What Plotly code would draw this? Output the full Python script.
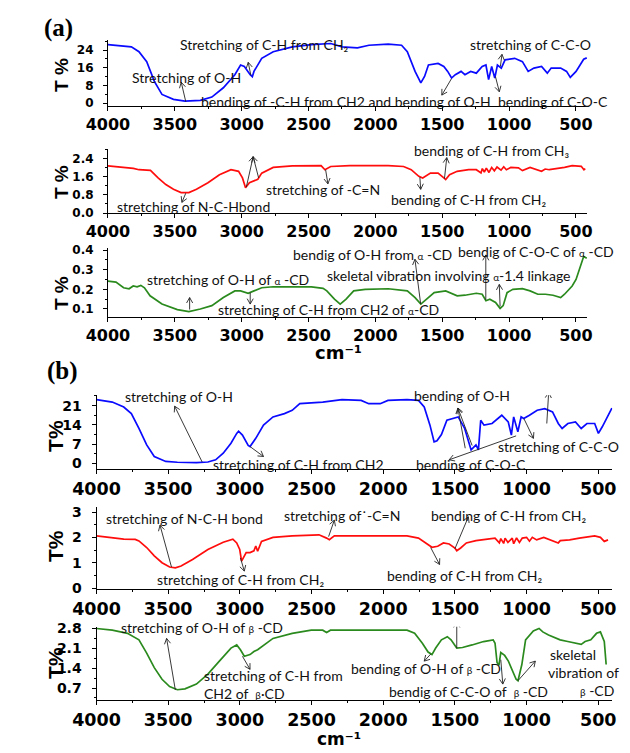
import math
import plotly.graph_objects as go

# ---------------- data (wavenumber cm-1, transmittance) ----------------
wn_a1 = [4000, 3825, 3768, 3710, 3653, 3596, 3510, 3424, 3309, 3223, 3137, 3051, 3008, 2980, 2936, 2920,
         2908, 2850, 2764, 2621, 2478, 2334, 2248, 2134, 2048, 1904, 1804, 1761, 1703, 1660, 1632, 1603,
         1531, 1488, 1459, 1430, 1402, 1359, 1330, 1287, 1245, 1201, 1173, 1153, 1130, 1107, 1087, 1058,
         1030, 958, 900, 857, 814, 757, 714, 685, 614, 570, 542, 499, 442, 419]
t_a1 = [26.5, 25.5, 23.3, 18.8, 9.9, 4.0, 1.8, 1.0, 1.3, 2.8, 7.0, 12.9, 17.3, 16.6, 12.9, 12.0,
        14.4, 20.3, 23.3, 25.5, 26.5, 27.0, 25.5, 25.0, 26.2, 26.7, 26.2, 23.3, 14.4, 9.2, 12.1, 17.3,
        18.0, 16.6, 14.4, 11.4, 12.9, 14.4, 12.9, 14.4, 13.6, 16.6, 17.3, 10.7, 16.6, 11.4, 17.3, 15.9,
        19.6, 20.3, 18.8, 14.4, 15.9, 16.6, 13.6, 15.9, 15.9, 14.4, 11.7, 14.4, 19.9, 20.5]

wn_a2 = [4000, 3857, 3810, 3768, 3682, 3625, 3567, 3510, 3453, 3395, 3338, 3252, 3166, 3080, 3023, 2994,
         2971, 2942, 2908, 2879, 2850, 2764, 2621, 2406, 2377, 2334, 2191, 1904, 1789, 1732, 1675, 1646,
         1588, 1531, 1488, 1474, 1445, 1388, 1302, 1245, 1210, 1200, 1185, 1170, 1150, 1130, 1110, 1090,
         1060, 1040, 1020, 987, 930, 900, 843, 757, 730, 699, 585, 528, 460, 440, 430]
t_a2 = [2.07, 2.0, 1.96, 1.9, 1.87, 1.54, 1.25, 1.04, 0.9, 0.9, 1.04, 1.33, 1.68, 1.9, 1.83, 1.54,
        1.11, 1.33, 1.4, 1.48, 1.75, 2.0, 2.07, 2.08, 1.9, 2.04, 2.08, 2.08, 2.04, 1.9, 1.61, 1.54,
        1.75, 1.75, 1.54, 1.47, 1.68, 1.83, 1.9, 1.9, 1.76, 1.95, 1.8, 1.97, 1.78, 2.0, 1.85, 2.02,
        1.88, 2.03, 1.9, 2.0, 1.98, 1.86, 2.0, 1.83, 1.93, 1.9, 2.0, 2.08, 2.05, 1.9, 1.95]

wn_a3 = [4000, 3940, 3883, 3842, 3811, 3782, 3754, 3727, 3685, 3596, 3481, 3395, 3309, 3223, 3137, 3051,
         3008, 2951, 2908, 2850, 2764, 2478, 2391, 2363, 2306, 2263, 2219, 2162, 2076, 1904, 1761, 1703,
         1660, 1618, 1560, 1474, 1388, 1330, 1245, 1201, 1173, 1144, 1101, 1067, 1044, 1015, 972, 900,
         843, 785, 728, 671, 614, 585, 528, 499, 470, 442, 419]
t_a3 = [0.242, 0.237, 0.208, 0.203, 0.217, 0.213, 0.22, 0.208, 0.167, 0.125, 0.097, 0.087, 0.1, 0.117, 0.158, 0.192,
        0.192, 0.18, 0.192, 0.208, 0.213, 0.212, 0.205, 0.192, 0.15, 0.125, 0.15, 0.192, 0.2, 0.203, 0.192, 0.158,
        0.125, 0.15, 0.183, 0.192, 0.167, 0.17, 0.18, 0.175, 0.142, 0.15, 0.133, 0.103, 0.117, 0.183, 0.2, 0.203,
        0.192, 0.175, 0.175, 0.17, 0.158, 0.175, 0.217, 0.25, 0.308, 0.367, 0.358]

wn_b1 = [4000, 3890, 3810, 3757, 3704, 3650, 3597, 3517, 3436, 3303, 3223, 3169, 3116, 3062, 3022, 3009,
         2982, 2942, 2929, 2889, 2835, 2769, 2689, 2635, 2582, 2422, 2288, 2154, 2101, 2021, 1967, 1834,
         1754, 1714, 1674, 1645, 1625, 1594, 1556, 1477, 1432, 1387, 1353, 1336, 1320, 1297, 1241, 1173,
         1128, 1106, 1090, 1061, 1038, 1020, 980, 926, 873, 819, 779, 752, 712, 659, 619, 579, 525,
         499, 472, 432, 405]
t_b1 = [23.2, 22.3, 20.5, 18.1, 12.7, 6.7, 2.5, 0.7, 0.4, 0.24, 0.5, 1.3, 3.7, 7.3, 10.9, 11.7,
        10.3, 6.5, 6.1, 9.1, 13.9, 16.9, 18.1, 19.3, 21.7, 22.3, 23.2, 22.9, 21.7, 21.7, 22.9, 23.2,
        22.9, 20.5, 13.9, 7.8, 8.2, 10.5, 15.7, 16.9, 12.7, 4.9, 6.7, 4.9, 15.7, 13.9, 14.5, 17.5,
        15.1, 10.3, 16.9, 11.5, 16.9, 16.3, 17.5, 19.3, 19.9, 18.7, 14.5, 12.7, 14.5, 15.1, 12.7, 14.5, 14.5,
        10.9, 13.3, 17.5, 20.1]

wn_b2 = [4000, 3864, 3830, 3810, 3730, 3704, 3650, 3597, 3543, 3490, 3450, 3410, 3330, 3223, 3116, 3049,
         3022, 3001, 2988, 2969, 2956, 2929, 2902, 2889, 2876, 2849, 2769, 2635, 2448, 2395, 2376, 2341,
         2235, 1834, 1754, 1700, 1660, 1620, 1580, 1540, 1500, 1487, 1460, 1420, 1353, 1273, 1220, 1190,
         1180, 1160, 1150, 1130, 1100, 1090, 1070, 1050, 1030, 1000, 980, 960, 930, 880, 779, 765,
         700, 632, 525, 485, 458, 432]
t_b2 = [2.06, 1.97, 1.97, 1.93, 1.92, 1.86, 1.6, 1.27, 1.0, 0.83, 0.8, 0.87, 1.13, 1.52, 1.81, 1.93,
        1.78, 1.52, 1.06, 1.26, 1.4, 1.4, 1.47, 1.66, 1.45, 1.84, 2.0, 2.06, 2.1, 1.97, 1.91, 2.06,
        2.06, 2.06, 1.97, 1.78, 1.61, 1.65, 1.78, 1.74, 1.58, 1.47, 1.58, 1.78, 1.87, 1.93, 1.97, 1.78,
        1.95, 1.76, 1.97, 1.8, 1.97, 1.75, 1.98, 1.8, 1.97, 2.0, 1.85, 2.0, 1.9, 2.0, 1.78, 1.87,
        1.9, 1.97, 2.06, 2.0, 1.84, 1.9]

wn_b3 = [4000, 3890, 3784, 3704, 3650, 3597, 3543, 3490, 3436, 3383, 3303, 3223, 3143, 3062, 3022, 2996,
         2969, 2929, 2902, 2876, 2769, 2635, 2502, 2422, 2395, 2368, 2235, 1834, 1781, 1727, 1687, 1660,
         1634, 1594, 1553, 1527, 1487, 1447, 1380, 1300, 1233, 1220, 1206, 1193, 1180, 1153, 1127, 1100,
         1073, 1060, 1033, 1007, 980, 953, 913, 887, 847, 766, 713, 659, 619, 592, 552, 512, 485, 458, 445]
t_b3 = [2.8, 2.74, 2.63, 2.4, 1.93, 1.42, 1.01, 0.75, 0.64, 0.67, 0.84, 1.19, 1.65, 2.11, 2.22, 2.05,
        1.82, 1.88, 1.99, 2.05, 2.45, 2.63, 2.74, 2.74, 2.66, 2.74, 2.74, 2.74, 2.63, 2.28, 1.97, 1.88,
        2.11, 2.4, 2.51, 2.4, 2.11, 2.13, 2.22, 2.34, 2.4, 2.28, 1.6, 1.5, 1.95, 1.85, 1.65, 1.3,
        1.01, 0.96, 1.53, 2.4, 2.57, 2.71, 2.8, 2.68, 2.57, 2.4, 2.34, 2.28, 2.24, 2.34, 2.4, 2.63, 2.68, 2.34, 1.53]

x_ticks = [4000, 3500, 3000, 2500, 2000, 1500, 1000, 500]
y_ticks = {
    "a1": [0, 8, 16, 24], "a2": [0.0, 0.8, 1.6, 2.4], "a3": [0.1, 0.2, 0.3, 0.4],
    "b1": [0, 7, 14, 21], "b2": [0, 1, 2, 3], "b3": [0.7, 1.4, 2.1, 2.8],
}

series = [
    ("a1", wn_a1, t_a1, "#0a0aff"), ("a2", wn_a2, t_a2, "#ff0d0d"), ("a3", wn_a3, t_a3, "#2b8a1e"),
    ("b1", wn_b1, t_b1, "#0a0aff"), ("b2", wn_b2, t_b2, "#ff0d0d"), ("b3", wn_b3, t_b3, "#2b8a1e"),
]
for name, w, t, c in series:
    assert len(w) == len(t), (name, len(w), len(t))

# ---------------- layout geometry (pixels) ----------------
W, H = 630, 753
panels = {
    "a1": (88, 590.6, 35, 101.7, [4000, 414], [-1.2, 28.4], 4, None),
    "a2": (88, 590.6, 145.7, 210.7, [4000, 414], [0, 2.8], 0.4, ".1f"),
    "a3": (88, 590.6, 246.7, 316.7, [4000, 414], [0.058, 0.408], 0.05, ".1f"),
    "b1": (76, 616.7, 396, 471, [4000, 402], [-2, 24.8], 3.5, None),
    "b2": (76, 616.7, 510, 593.3, [4000, 402], [-0.04, 3.19], 0.5, None),
    "b3": (76, 616.7, 631.7, 706, [4000, 402], [0.285, 2.86], 0.35, ".1f"),
}

fig = go.Figure()
layout = dict(width=W, height=H, margin=dict(l=0, r=0, t=0, b=0),
              paper_bgcolor="white", plot_bgcolor="white", showlegend=False)

order = ["a1", "a2", "a3", "b1", "b2", "b3"]
axid = {}
for i, name in enumerate(order, start=1):
    xl, xr, top, bot, xr_, yr_, ymin, yfmt = panels[name]
    xa = "xaxis" if i == 1 else f"xaxis{i}"
    ya = "yaxis" if i == 1 else f"yaxis{i}"
    xs = "x" if i == 1 else f"x{i}"
    ys = "y" if i == 1 else f"y{i}"
    axid[name] = (xs, ys)
    is_a = name.startswith("a")
    layout[xa] = dict(
        domain=[xl / W, xr / W], range=xr_, anchor=ys, showline=True, linecolor="black", linewidth=1,
        ticks="outside", ticklen=4, tickwidth=1, tickcolor="black", tickvals=x_ticks,
        minor=dict(dtick=250, tick0=0, ticks="outside", ticklen=2, tickcolor="black"),
        tickfont=dict(family="DejaVu Sans", size=16 if is_a else 17.5, color="black", weight="bold"),
        showgrid=False, zeroline=False,
    )
    layout[ya] = dict(
        domain=[1 - bot / H, 1 - top / H], range=yr_, anchor=xs, showline=True, linecolor="black",
        linewidth=1, ticks="outside", ticklen=4, tickwidth=1, tickcolor="black",
        tickvals=y_ticks[name], tickformat=yfmt,
        minor=dict(dtick=ymin, tick0=0, ticks="outside", ticklen=2, tickcolor="black"),
        tickfont=dict(family="DejaVu Sans", size=12 if is_a else 14, color="black", weight="bold"),
        ticklabelstandoff=7,
        showgrid=False, zeroline=False,
    )

for name, w, t, c in series:
    xs, ys = axid[name]
    fig.add_trace(go.Scatter(x=w, y=t, mode="lines", line=dict(color=c, width=1.7),
                             xaxis=xs, yaxis=ys, hoverinfo="skip"))

ann = []
shapes = []
TF = dict(family="Lato, DejaVu Sans", size=14, color="#111")


def txt(name, text, x, y, anchor="left"):
    xs, ys = axid[name]
    ann.append(dict(text=text, x=x, y=y, xref=xs, yref=ys, showarrow=False, xanchor=anchor,
                    yanchor="middle", font=TF, borderpad=0))


def arr(name, hx, hy, tx, ty, L=5.5, Wd=3.2):
    """Pointer line from (tx,ty) to (hx,hy) with an open V head, as layout shapes."""
    xs, ys = axid[name]
    xl, xr, top, bot, xr_, yr_, _, _ = panels[name]
    sx = (xr - xl) / (xr_[0] - xr_[1])
    sy = (bot - top) / (yr_[1] - yr_[0])
    to_px = lambda x, y: (xl + (xr_[0] - x) * sx, bot - (y - yr_[0]) * sy)
    to_d = lambda px, py: (xr_[0] - (px - xl) / sx, yr_[0] + (bot - py) / sy)
    hpx, hpy = to_px(hx, hy)
    tpx, tpy = to_px(tx, ty)
    dx, dy = hpx - tpx, hpy - tpy
    n = math.hypot(dx, dy) or 1.0
    dx, dy = dx / n, dy / n
    w1 = to_d(hpx - L * dx - Wd * dy, hpy - L * dy + Wd * dx)
    w2 = to_d(hpx - L * dx + Wd * dy, hpy - L * dy - Wd * dx)
    ln = dict(color="#222", width=0.9)
    shapes.append(dict(type="line", xref=xs, yref=ys, x0=tx, y0=ty, x1=hx, y1=hy, line=ln, layer="above"))
    shapes.append(dict(type="path", xref=xs, yref=ys, layer="above", line=ln,
                       path=f"M{w1[0]},{w1[1]} L{hx},{hy} L{w2[0]},{w2[1]}"))


CH2 = "CH₂"
CH3 = "CH₃"
sma = "<span style='font-size:10px'>α</span>"
smb = "<span style='font-size:10px'>β</span>"

# panel a1
txt("a1", "Stretching of C-H from " + CH2, 3467, 26.7)
txt("a1", "Stretching of O-H", 3828, 11.7)
txt("a1", "bending of -C-H from CH2 and bending of O-H", 3312, 0.75)
txt("a1", "stretching of C-C-O", 1300, 26.5)
txt("a1", "bending of C-O-C", 1090, 0.75)
arr("a1", 2951, 18.5, 2931, 12.6)
arr("a1", 3452, 9.5, 3418, 0.75)
arr("a1", 1503, 3.7, 1431, 11.1)
arr("a1", 1053, 22.1, 1065, 16.6)
arr("a1", 1073, 5.2, 1102, 12.1)

# panel a2
txt("a2", "stretching of C-H from " + CH2, 3581, 2.85)
txt("a2", "stretching of N-C-Hbond", 3940, 0.3)
txt("a2", "stretching of -C=N", 2822, 1.04)
txt("a2", "bending of C-H from " + CH3, 1721, 2.75)
txt("a2", "bending of C-H from " + CH2, 1893, 0.61)
arr("a2", 2914, 2.47, 2965, 1.14)
arr("a2", 2914, 2.47, 2873, 1.54)
arr("a2", 3447, 0.47, 3418, 0.87)
arr("a2", 2355, 1.28, 2372, 1.9)
arr("a2", 1466, 2.43, 1483, 1.51)
arr("a2", 1661, 1.04, 1667, 1.57)

# panel a3
txt("a3", "stretching of O-H of " + sma + " -CD", 3716, 0.25)
txt("a3", "stretching of C-H from CH2 of " + sma + "-CD", 3183, 0.097)
txt("a3", "bendig of O-H from " + sma + " -CD", 2624, 0.375)
txt("a3", "skeletal vibration involving " + sma + "-1.4 linkage", 2366, 0.27)
txt("a3", "bendig of C-O-C of " + sma + " -CD", 1386, 0.392)
arr("a3", 3389, 0.158, 3389, 0.097)
arr("a3", 2936, 0.125, 2936, 0.183)
arr("a3", 1704, 0.353, 1661, 0.125)
arr("a3", 1174, 0.375, 1174, 0.147)
arr("a3", 1073, 0.225, 1067, 0.113)

# panel b1
txt("b1", "stretching of O-H", 3805, 24.4)
txt("b1", "stretching of C-H from CH2", 3196, -0.24)
txt("b1", "bending of O-H", 1794, 24.6)
txt("b1", "skeletal vibration", 1099, 27.6)
txt("b1", "stretching of C-C-O", 1206, 6.1)
txt("b1", "bending of C-O-C", 1780, -0.24)
arr("b1", 3455, 20.8, 3263, 0.48)
arr("b1", 2835, 2.5, 2929, 6.1)
arr("b1", 1479, 20.1, 1428, 5.5)
arr("b1", 1479, 20.1, 1380, 6.5)
arr("b1", 846, 25.8, 859, 14.5)
arr("b1", 952, 9.1, 1019, 16.3)
arr("b1", 1540, 1.3, 1073, 10)

# panel b2
txt("b2", "stretching of N-C-H bond", 3944, 2.74)
txt("b2", "stretching of C-H from " + CH2, 3583, 0.35)
txt("b2", "stretching of˙-C=N", 2702, 2.85)
txt("b2", "bending of C-H from " + CH2, 1674, 2.85)
txt("b2", "bending of C-H from " + CH2, 1981, 0.48)
arr("b2", 3557, 2.48, 3477, 0.83)
arr("b2", 2969, 0.67, 2996, 1.19)
arr("b2", 2341, 2.68, 2381, 2.03)
arr("b2", 1406, 2.81, 1500, 1.55)
arr("b2", 1607, 0.93, 1669, 1.6)

# panel b3
txt("b3", "stretching of O-H of " + smb + " -CD", 3837, 2.84)
txt("b3", "stretching of C-H from", 3255, 1.13)
txt("b3", "CH2 of  " + smb + "·CD", 3255, 0.52)
txt("b3", "bending of C-O-C of " + smb + " -CD", 2007, 3.07)
txt("b3", "bending of O-H of " + smb + " -CD", 2234, 1.39)
txt("b3", "bendig of C-C-O of  " + smb + " -CD", 1967, 0.59)
txt("b3", "skeletal", 846, 1.9)
txt("b3", "vibration of", 859, 1.24)
txt("b3", smb + " -CD", 632, 0.61)
arr("b3", 3511, 2.45, 3450, 0.63)
arr("b3", 2929, 1.36, 2982, 1.82)
arr("b3", 1487, 3.03, 1487, 2.11)
arr("b3", 1714, 1.65, 1668, 1.9)
arr("b3", 1166, 0.84, 1180, 1.7)
arr("b3", 939, 1.65, 1060, 0.96)


def paper(text, px, py, size, family, angle=0, bold=True):
    ann.append(dict(text=text, x=px / W, y=1 - py / H, xref="paper", yref="paper", showarrow=False,
                    xanchor="center", yanchor="middle", textangle=angle,
                    font=dict(family=family, size=size, color="black", weight="bold" if bold else "normal")))


paper("(a)", 36, 22, 25, "Liberation Serif")
paper("(b)", 40, 371, 25, "Liberation Serif")
for py in (70, 179, 292):
    paper("T %", 40, py, 19, "Liberation Sans", angle=-90)
for py in (437, 549, 668):
    paper("T%", 33, py, 21, "Liberation Sans", angle=-90)
paper("cm⁻¹", 330, 353, 18, "DejaVu Sans")
paper("cm⁻¹", 330, 745.5, 17, "DejaVu Sans")

layout["annotations"] = ann
layout["shapes"] = shapes
fig.update_layout(**layout)
fig.write_html("out.html")
